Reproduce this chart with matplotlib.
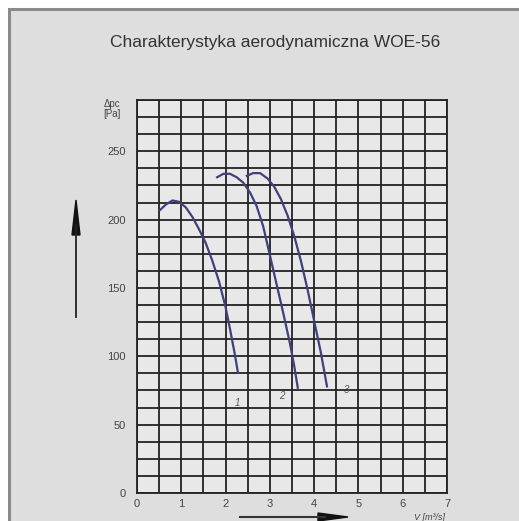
import matplotlib
matplotlib.use("Agg")
import matplotlib.pyplot as plt
from matplotlib.patches import Rectangle, FancyArrow

plt.rcParams['font.family'] = ['Liberation Sans', 'DejaVu Sans']

title = "Charakterystyka aerodynamiczna WOE-56"
x_ticks = [0, 1, 2, 3, 4, 5, 6, 7]
y_ticks = [0, 50, 100, 150, 200, 250]

curve1_v = [0.52, 0.65, 0.80, 0.95, 1.10, 1.25, 1.40, 1.55, 1.70, 1.85, 2.00, 2.10, 2.20, 2.28]
curve1_p = [207, 211, 214, 213, 209, 202, 193, 183, 170, 155, 136, 120, 103, 88]
curve2_v = [1.81, 1.95, 2.10, 2.25, 2.40, 2.55, 2.70, 2.85, 3.00, 3.15, 3.30, 3.45, 3.55, 3.63]
curve2_p = [231, 233.5, 233.5, 231, 227, 220, 210, 195, 174, 153, 132, 110, 93, 77]
curve3_v = [2.48, 2.62, 2.78, 2.95, 3.10, 3.25, 3.40, 3.55, 3.70, 3.85, 4.00, 4.15, 4.29]
curve3_p = [232, 234, 234, 230, 224, 215, 203, 188, 170, 149, 126, 103, 78]
curve_labels = ["1", "2", "3"]
label_pos_v = [2.26, 3.27, 4.72]
label_pos_p = [66, 71, 75]

W, H = 519, 521
fig = plt.figure(figsize=(W / 100, H / 100), dpi=100)
fig.patch.set_facecolor("white")

# outer grey panel with border
fig.patches.append(Rectangle((9 / W, -0.05), 1.2, 1 - 9 / H + 0.05, transform=fig.transFigure,
                             facecolor="#dedede", edgecolor="#8a8a8a", lw=2.2, zorder=-10))

fig.text(275 / W, 1 - 43 / H, title, ha="center", va="center", fontsize=12.5, color="#333333")

ax = fig.add_axes([137 / W, 1 - 493 / H, 310 / W, 393 / H])
ax.set_zorder(5)
ax.set_facecolor("#e8e8e8")
ax.set_xlim(0, 7)
ax.set_ylim(0, 287.5)
for i in range(15):
    ax.axvline(i * 0.5, color="#222222", lw=1.3, zorder=1)
for j in range(24):
    ax.axhline(j * 12.5, color="#222222", lw=1.3, zorder=1)
for s in ax.spines.values():
    s.set_color("#222222")
    s.set_linewidth(1.3)

ax.set_xticks(x_ticks)
ax.set_xticklabels([str(t) for t in x_ticks])
ax.set_yticks(y_ticks)
ax.set_yticklabels([str(t) for t in y_ticks])
ax.tick_params(axis="y", length=0, labelsize=8, colors="#444444", pad=8)
ax.tick_params(axis="x", length=0, labelsize=8, colors="#444444", pad=4)

curve_color = "#40407a"
for v, p in [(curve1_v, curve1_p), (curve2_v, curve2_p), (curve3_v, curve3_p)]:
    ax.plot(v, p, color=curve_color, lw=1.6, zorder=3)
for lab, v, p in zip(curve_labels, label_pos_v, label_pos_p):
    ax.text(v, p, lab, fontsize=7, color="#555566", ha="center", va="center", style="italic")

fig.text(112 / W, 1 - 104 / H, "Δpc", fontsize=7, color="#444444", ha="center", va="center")
fig.text(112 / W, 1 - 114 / H, "[Pa]", fontsize=7, color="#444444", ha="center", va="center")
fig.text(430 / W, 1 - 517 / H, "V [m³/s]", fontsize=6.5, color="#444444", ha="center", va="center",
         style="italic")

# left arrow (vertical)
fig.add_artist(plt.Line2D([76 / W, 76 / W], [1 - 317 / H, 1 - 225 / H], transform=fig.transFigure,
                          color="#222222", lw=1.3))
fig.patches.append(FancyArrow(76 / W, 1 - 235 / H, 0, 35 / H, width=0.0001, head_width=8 / W,
                              head_length=35 / H, length_includes_head=True,
                              transform=fig.transFigure, color="#111111"))
# bottom arrow (horizontal)
fig.add_artist(plt.Line2D([240 / W, 325 / W], [1 - 517 / H, 1 - 517 / H], transform=fig.transFigure,
                          color="#333333", lw=1.5))
fig.patches.append(FancyArrow(318 / W, 1 - 517 / H, 30 / W, 0, width=0.0001, head_width=8 / H,
                              head_length=30 / W, length_includes_head=True,
                              transform=fig.transFigure, color="#111111"))

fig.savefig("out.png", dpi=100, facecolor=fig.get_facecolor())
